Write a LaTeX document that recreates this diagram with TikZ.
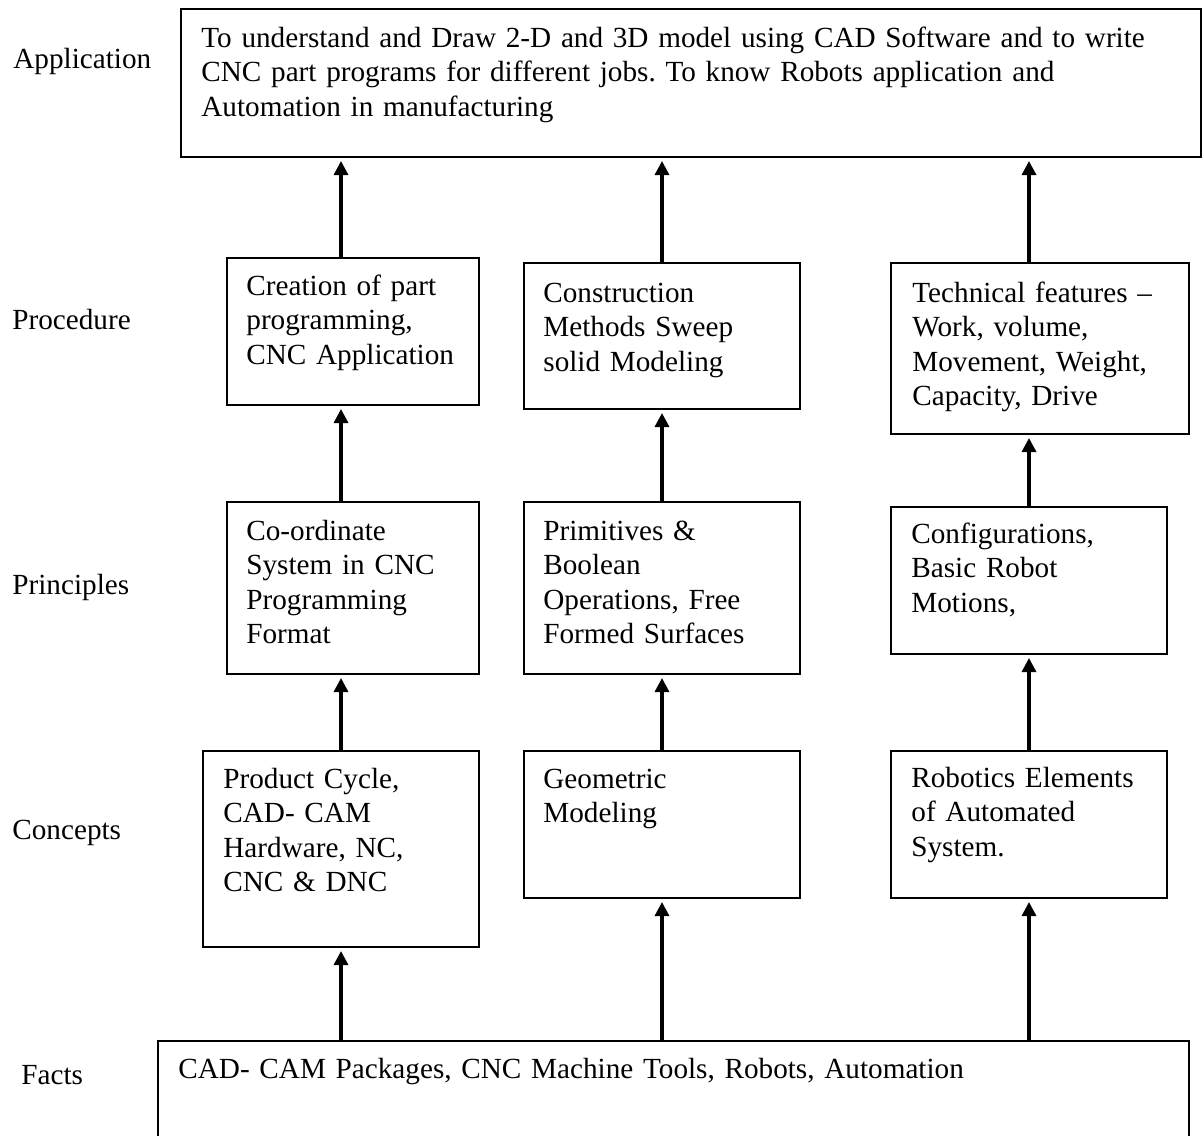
\documentclass[tikz,border=0pt]{standalone}
\usepackage{fontspec}
\setmainfont{Liberation Serif}
\usetikzlibrary{arrows.meta,fit}
\frenchspacing

\tikzset{
  box/.style={draw, line width=1pt, inner sep=0pt},
  txt/.style={anchor=base west, inner sep=0pt, align=left, text width=140pt,
    font=\fontsize{14.6}{17.25}\selectfont},
  lbl/.style={anchor=base west, inner sep=0pt, font=\fontsize{14.6}{17.25}\selectfont},
  up/.style={-{Triangle[length=7pt,width=7pt]}, line width=1.6pt, shorten >=1.5pt}
}

\begin{document}
\begin{tikzpicture}[x=0.5pt,y=-0.5pt]
\useasboundingbox (0,0) rectangle (1204,1135);
\clip (0,0) rectangle (1204,1135);

% level names
\node[lbl] (l-app) at (13,68) {Application};
\node[lbl] (l-proc) at (12,329) {Procedure};
\node[lbl] (l-prin) at (12,594) {Principles};
\node[lbl] (l-conc) at (12,839) {Concepts};
\node[lbl] (l-fact) at (21,1084) {Facts};

% boxes
\node[box, fit={(181,9) (1201,157)}] (app) {};
\node[box, fit={(227,258) (479,405)}] (proc1) {};
\node[box, fit={(524,263) (800,409)}] (proc2) {};
\node[box, fit={(891,263) (1189,434)}] (proc3) {};
\node[box, fit={(227,502) (479,674)}] (prin1) {};
\node[box, fit={(524,502) (800,674)}] (prin2) {};
\node[box, fit={(891,507) (1167,654)}] (prin3) {};
\node[box, fit={(203,751) (479,947)}] (conc1) {};
\node[box, fit={(524,751) (800,898)}] (conc2) {};
\node[box, fit={(891,751) (1167,898)}] (conc3) {};
\node[box, fit={(158,1041) (1189,1170)}] (fact) {};

% box texts
\node[txt, text width=520pt] (app-t) at (201,47) {To understand and Draw 2-D and 3D model using CAD Software and to write\\ CNC part programs for different jobs. To know Robots application and\\ Automation in manufacturing};
\node[txt] (proc1-t) at (246,295) {Creation of part\\ programming,\\ CNC Application};
\node[txt] (proc2-t) at (543,302) {Construction\\ Methods Sweep\\ solid Modeling};
\node[txt] (proc3-t) at (912,302) {Technical features --\\ Work, volume,\\ Movement, Weight,\\ Capacity, Drive};
\node[txt] (prin1-t) at (246,540) {Co-ordinate\\ System in CNC\\ Programming\\ Format};
\node[txt] (prin2-t) at (543,540) {Primitives \&\\ Boolean\\ Operations, Free\\ Formed Surfaces};
\node[txt] (prin3-t) at (911,543) {Configurations,\\ Basic Robot\\ Motions,};
\node[txt] (conc1-t) at (223,788) {Product Cycle,\\ CAD- CAM\\ Hardware, NC,\\ CNC \& DNC};
\node[txt] (conc2-t) at (543,788) {Geometric\\ Modeling};
\node[txt] (conc3-t) at (911,787) {Robotics Elements\\ of Automated\\ System.};
\node[txt, text width=500pt] (fact-t) at (178,1078) {CAD- CAM Packages, CNC Machine Tools, Robots, Automation};

% arrows
\draw[up] (conc1.south |- fact.north) -- (conc1.south);
\draw[up] (conc2.south |- fact.north) -- (conc2.south);
\draw[up] (conc3.south |- fact.north) -- (conc3.south);
\draw[up] (conc1.north) -- (conc1.north |- prin1.south);
\draw[up] (conc2.north) -- (prin2.south);
\draw[up] (conc3.north) -- (prin3.south);
\draw[up] (conc1.north |- prin1.north) -- (conc1.north |- proc1.south);
\draw[up] (prin2.north) -- (proc2.south);
\draw[up] (prin3.north) -- (prin3.north |- proc3.south);
\draw[up] (conc1.north |- proc1.north) -- (conc1.north |- app.south);
\draw[up] (proc2.north) -- (proc2.north |- app.south);
\draw[up] (prin3.north |- proc3.north) -- (prin3.north |- app.south);
\end{tikzpicture}
\end{document}
